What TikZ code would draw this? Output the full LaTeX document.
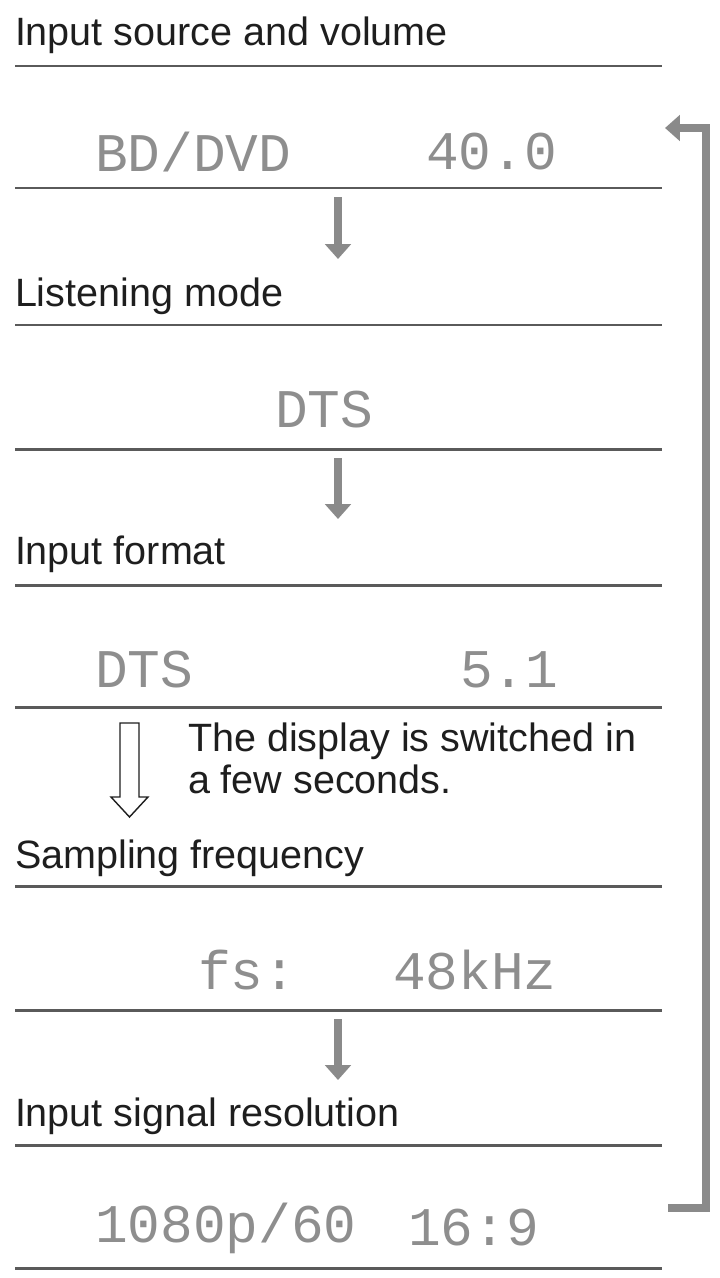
\documentclass[tikz,border=0pt]{standalone}
\usepackage{fontspec}
\setmainfont{Liberation Sans}
\newfontfamily\lcdfont{Liberation Mono}
\usetikzlibrary{arrows.meta}
\definecolor{ink}{HTML}{1E1E1E}
\definecolor{rulegray}{HTML}{5A5A5A}
\definecolor{flowgray}{HTML}{8A8A8A}
\definecolor{lcdgray}{HTML}{8E8E8E}

\begin{document}
\begin{tikzpicture}[x=0.02cm, y=-0.02cm]
    \tikzstyle{every node}+=[inner sep=0pt, outer sep=0pt]
    \tikzstyle{heading}=[anchor=base west, text=ink, font=\fontsize{22.5}{27}\selectfont]
    \tikzstyle{lcd}=[anchor=west, text=lcdgray, font=\lcdfont\fontsize{31}{31}\selectfont]
    \tikzstyle{divider}=[draw=rulegray, line width=1.7pt]
    \tikzstyle{flow}=[draw=flowgray, line width=5pt,
                      -{Triangle[width=14.5pt, length=8.5pt]}]
    \useasboundingbox (0,0) rectangle (720,1278);

    \node[heading] (source)  at (15, 45)   {Input source and volume};
    \node[lcd]     (bddvd)   at (95, 152)  {BD/DVD};
    \node[lcd]     (volume)  at (426, 152) {40.0};
    \node[heading] (mode)    at (15, 306)  {Listening mode};
    \node[lcd]     (dts)     at (275, 410) {DTS};
    \node[heading] (format)  at (15, 564)  {Input format};
    \node[lcd]     (fmtdts)  at (95, 670)  {DTS};
    \node[lcd]     (chan)    at (460, 670) {5.1};
    \node[heading] (note1)   at (188, 751) {The display is switched in};
    \node[heading] (note2)   at (188, 793) {a few seconds.};
    \node[heading] (rate)    at (15, 868)  {Sampling frequency};
    \node[lcd]     (fs)      at (198, 970) {fs:};
    \node[lcd]     (khz)     at (393, 970) {48kHz};
    \node[heading] (res)     at (15, 1126) {Input signal resolution};
    \node[lcd]     (video)   at (95, 1228) {1080p/60};
    \node[lcd]     (aspect)  at (408, 1228) {16:9};

    % rules under each line
    \foreach \y in {66, 188, 325, 449, 585, 707, 886, 1010, 1145, 1268}
        \draw[divider] (15, \y) -- (662, \y);

    \coordinate (down1a) at (338, 197);
    \coordinate (down1b) at (338, 259);
    \coordinate (down2a) at (338, 458);
    \coordinate (down2b) at (338, 519);
    \coordinate (down3a) at (338, 1019);
    \coordinate (down3b) at (338, 1080);
    \coordinate (loopin)  at (668, 1208);
    \coordinate (loopup)  at (706, 128);
    \coordinate (loopout) at (665, 128);

    \draw[flow] (down1a) -- (down1b);
    \draw[flow] (down2a) -- (down2b);
    \draw[flow] (down3a) -- (down3b);
    \draw[flow, line join=miter] (loopin) -| (loopup) -- (loopout);

    % hollow arrow
    \draw[line width=0.8pt, draw=ink, fill=white]
        (120, 723) -- (139, 723) -- (139, 797) -- (148, 797) -- (129.5, 817)
        -- (111, 797) -- (120, 797) -- cycle;
\end{tikzpicture}
\end{document}
